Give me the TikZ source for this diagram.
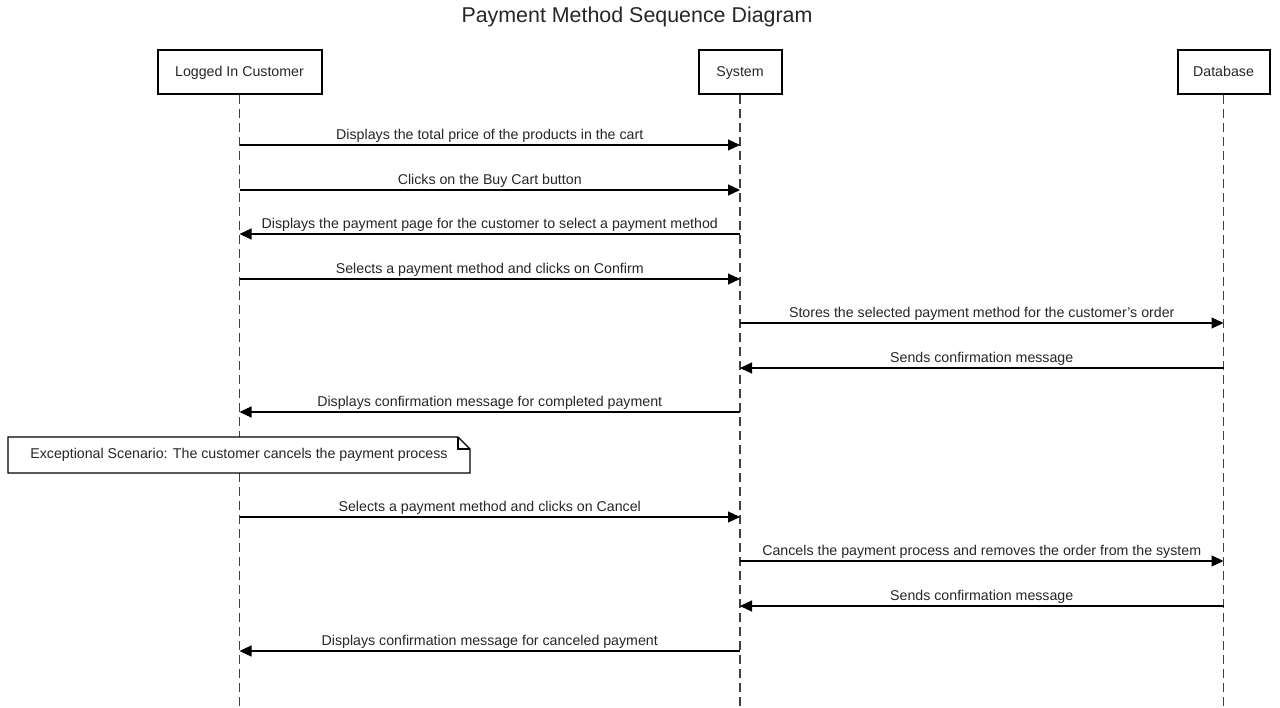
\documentclass[tikz,border=0pt]{standalone}
\usepackage{fontspec}
\setmainfont{Liberation Sans}
\usetikzlibrary{arrows.meta}
\begin{document}
\begin{tikzpicture}[x=1pt,y=-1pt,
  actor/.style={draw=black,line width=2pt,minimum height=44pt,inner sep=0pt,text height=10.5pt,text depth=2.5pt,font=\fontsize{14.2}{16}\selectfont,text=black!85},
  lifeline/.style={draw=black!75,line width=1.2pt,dash pattern=on 9pt off 5pt},
  msg/.style={draw=black,line width=1.1pt,-{Triangle[length=12pt,width=11pt]}},
  lbl/.style={font=\fontsize{14.2}{16}\selectfont,above,inner sep=2.5pt,text=black!85}]
\useasboundingbox (0,0) rectangle (1280,707);
\node[font=\fontsize{21.4}{24}\selectfont,text=black!85] (title) at (637,17) {Payment Method Sequence Diagram};
\node[actor,minimum width=164pt] (c) at (239.5,72) {Logged In Customer};
\node[actor,minimum width=83pt] (s) at (740,72) {System};
\node[actor,minimum width=92pt] (d) at (1223.5,72) {Database};
\coordinate (cb) at (239.5,707);
\coordinate (sb) at (740,707);
\coordinate (db) at (1223.5,707);
\draw[lifeline] (c.south) -- (cb);
\draw[lifeline] (s.south) -- (sb);
\draw[lifeline] (d.south) -- (db);
% message anchors
\foreach \n/\y in {1/145,2/190,3/234,4/279,5/323,6/368,7/412,8/517,9/561,10/606,11/651}{
  \coordinate (c\n) at (239.5,\y);
  \coordinate (s\n) at (740,\y);
  \coordinate (d\n) at (1223.5,\y);
}
\draw[msg] (c1) -- node[lbl]{Displays the total price of the products in the cart} (s1);
\draw[msg] (c2) -- node[lbl]{Clicks on the Buy Cart button} (s2);
\draw[msg] (s3) -- node[lbl]{Displays the payment page for the customer to select a payment method} (c3);
\draw[msg] (c4) -- node[lbl]{Selects a payment method and clicks on Confirm} (s4);
\draw[msg] (s5) -- node[lbl]{Stores the selected payment method for the customer's order} (d5);
\draw[msg] (d6) -- node[lbl]{Sends confirmation message} (s6);
\draw[msg] (s7) -- node[lbl]{Displays confirmation message for completed payment} (c7);
% note
\draw[fill=white,draw=black,line width=1.1pt] (8,437) -- (458,437) -- (470,449) -- (470,473) -- (8,473) -- cycle;
\draw[line width=1.1pt] (458,437) -- (458,449) -- (470,449);
\node[font=\fontsize{14.2}{16}\selectfont,text=black!85] (note) at (239,455) {Exceptional Scenario: The customer cancels the payment process};
\draw[msg] (c8) -- node[lbl]{Selects a payment method and clicks on Cancel} (s8);
\draw[msg] (s9) -- node[lbl]{Cancels the payment process and removes the order from the system} (d9);
\draw[msg] (d10) -- node[lbl]{Sends confirmation message} (s10);
\draw[msg] (s11) -- node[lbl]{Displays confirmation message for canceled payment} (c11);
\end{tikzpicture}
\end{document}
